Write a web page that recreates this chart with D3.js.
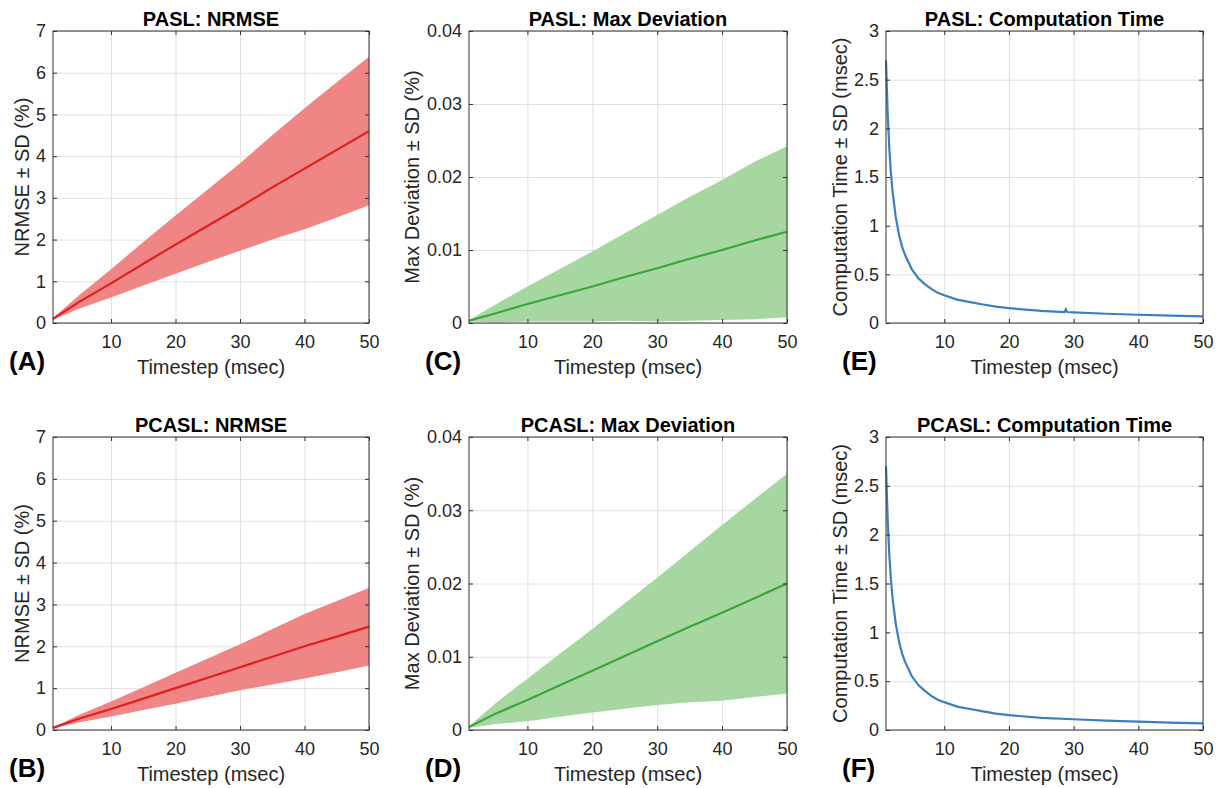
<!DOCTYPE html>
<html>
<head>
<meta charset="utf-8">
<script src="https://cdn.jsdelivr.net/npm/d3@7"></script>
<style>
  body { margin: 0; background: #fff; }
  svg { display: block; font-family: "Liberation Sans", Arial, sans-serif; }
  .tick text { fill: #262626; font-size: 18px; }
  .grid line { stroke: #e0e0e0; }
  .grid .domain { display: none; }
</style>
</head>
<body>
<div id="chart"></div>
<script>
// timesteps (msec) where values were read
var stepX = [1, 5, 10, 15, 20, 25, 30, 35, 40, 45, 50];

// PASL / PCASL NRMSE (%) mean and SD
var paslNrmse = [0.10, 0.50, 0.95, 1.42, 1.88, 2.33, 2.78, 3.25, 3.70, 4.15, 4.60];
var paslNrmseSd = [0.02, 0.16, 0.34, 0.52, 0.70, 0.87, 1.05, 1.25, 1.45, 1.62, 1.78];
var pcaslNrmse = [0.05, 0.27, 0.50, 0.75, 1.00, 1.25, 1.50, 1.75, 2.00, 2.23, 2.47];
var pcaslNrmseSd = [0.01, 0.09, 0.18, 0.27, 0.37, 0.46, 0.55, 0.66, 0.77, 0.85, 0.93];

// Max deviation (%) mean and SD
var paslMaxDev = [0.0003, 0.0013, 0.0026, 0.0038, 0.0050, 0.0063, 0.0075, 0.0088, 0.0100, 0.0113, 0.0125];
var paslMaxDevSd = [0.0001, 0.0012, 0.0024, 0.0036, 0.0048, 0.0060, 0.0073, 0.0085, 0.0096, 0.0108, 0.0117];
var pcaslMaxDev = [0.0004, 0.0022, 0.0041, 0.0061, 0.0081, 0.0101, 0.0121, 0.0141, 0.0160, 0.0180, 0.0200];
var pcaslMaxDevSd = [0.0001, 0.0014, 0.0029, 0.0043, 0.0057, 0.0072, 0.0087, 0.0103, 0.0120, 0.0135, 0.0150];

// computation time (msec)
var paslTimeX = [1, 1.25, 1.5, 1.75, 2, 2.5, 3, 3.5, 4, 5, 6, 7, 8, 9, 10, 12, 14, 16, 18, 20, 25, 28.6, 28.8, 29, 30, 35, 40, 45, 50];
var paslTime = [2.70, 2.17, 1.81, 1.55, 1.36, 1.09, 0.91, 0.78, 0.69, 0.55, 0.46, 0.40, 0.35, 0.31, 0.285, 0.24, 0.215, 0.19, 0.168, 0.152, 0.125, 0.112, 0.14, 0.113, 0.11, 0.095, 0.085, 0.076, 0.068];
var pcaslTimeX = [1, 1.25, 1.5, 1.75, 2, 2.5, 3, 3.5, 4, 5, 6, 7, 8, 9, 10, 12, 14, 16, 18, 20, 25, 30, 35, 40, 45, 50];
var pcaslTime = [2.70, 2.17, 1.81, 1.55, 1.36, 1.09, 0.91, 0.78, 0.69, 0.55, 0.46, 0.40, 0.35, 0.31, 0.285, 0.24, 0.215, 0.19, 0.168, 0.152, 0.125, 0.11, 0.095, 0.085, 0.076, 0.068];

// tick labels
var xTicks = [10, 20, 30, 40, 50];
var nrmseTicks = [0, 1, 2, 3, 4, 5, 6, 7];
var maxDevTicks = [0, 0.01, 0.02, 0.03, 0.04];
var timeTicks = [0, 0.5, 1, 1.5, 2, 2.5, 3];

var width = 1217, height = 788;
var svg = d3.select("#chart").append("svg").attr("width", width).attr("height", height);

var cols = [{left: 53, right: 369, ylab: 22}, {left: 469, right: 787, ylab: 412}, {left: 886, right: 1203, ylab: 840}];
var rows = [{top: 31, bottom: 323}, {top: 437, bottom: 730}];

var red = {fill: "#f08585", line: "#e01e1e"},
  green = {fill: "#a6d7a0", line: "#3aa63a"},
  blue = {fill: "none", line: "#3a7fc2"};

var panels = [
  {col: 0, row: 0, letter: "(A)", title: "PASL: NRMSE", ylabel: "NRMSE \u00b1 SD (%)", x: stepX, mean: paslNrmse, sd: paslNrmseSd, ticks: nrmseTicks, c: red},
  {col: 0, row: 1, letter: "(B)", title: "PCASL: NRMSE", ylabel: "NRMSE \u00b1 SD (%)", x: stepX, mean: pcaslNrmse, sd: pcaslNrmseSd, ticks: nrmseTicks, c: red},
  {col: 1, row: 0, letter: "(C)", title: "PASL: Max Deviation", ylabel: "Max Deviation \u00b1 SD (%)", x: stepX, mean: paslMaxDev, sd: paslMaxDevSd, ticks: maxDevTicks, c: green},
  {col: 1, row: 1, letter: "(D)", title: "PCASL: Max Deviation", ylabel: "Max Deviation \u00b1 SD (%)", x: stepX, mean: pcaslMaxDev, sd: pcaslMaxDevSd, ticks: maxDevTicks, c: green},
  {col: 2, row: 0, letter: "(E)", title: "PASL: Computation Time", ylabel: "Computation Time \u00b1 SD (msec)", x: paslTimeX, mean: paslTime, sd: null, ticks: timeTicks, c: blue},
  {col: 2, row: 1, letter: "(F)", title: "PCASL: Computation Time", ylabel: "Computation Time \u00b1 SD (msec)", x: pcaslTimeX, mean: pcaslTime, sd: null, ticks: timeTicks, c: blue}
];

panels.forEach(drawPanel);

function drawPanel(p) {
  var col = cols[p.col], row = rows[p.row];
  var w = col.right - col.left, h = row.bottom - row.top;
  var g = svg.append("g").attr("transform", "translate(" + col.left + "," + row.top + ")");

  var x = d3.scaleLinear().domain([1, 50]).range([0, w]);
  var y = d3.scaleLinear().domain([p.ticks[0], p.ticks[p.ticks.length - 1]]).range([h, 0]);

  // grid
  g.append("g").attr("class", "grid")
    .attr("transform", "translate(0," + h + ")")
    .call(d3.axisBottom(x).tickValues(xTicks).tickSize(-h).tickFormat(""));
  g.append("g").attr("class", "grid")
    .call(d3.axisLeft(y).tickValues(p.ticks).tickSize(-w).tickFormat(""));

  var data = p.x.map(function (d, i) {
    return {x: d, m: p.mean[i], s: p.sd ? p.sd[i] : 0};
  });

  if (p.sd) {
    var band = d3.area()
      .x(function (d) { return x(d.x); })
      .y0(function (d) { return y(d.m - d.s); })
      .y1(function (d) { return y(d.m + d.s); });
    g.append("path").datum(data)
      .attr("d", band)
      .attr("fill", p.c.fill);
  }

  var line = d3.line()
    .x(function (d) { return x(d.x); })
    .y(function (d) { return y(d.m); });
  g.append("path").datum(data)
    .attr("d", line)
    .attr("fill", "none")
    .attr("stroke", p.c.line)
    .attr("stroke-width", 2.2);

  // axes, ticks pointing inward on all four sides
  var fmt = function (d) { return String(d); };
  var xb = g.append("g").attr("transform", "translate(0," + h + ")")
    .call(d3.axisBottom(x).tickValues(xTicks).tickSize(-4).tickSizeOuter(0).tickPadding(12).tickFormat(fmt));
  var xt = g.append("g")
    .call(d3.axisTop(x).tickValues(xTicks).tickSize(-4).tickSizeOuter(0).tickFormat(""));
  var yl = g.append("g")
    .call(d3.axisLeft(y).tickValues(p.ticks).tickSize(-4).tickSizeOuter(0).tickPadding(7).tickFormat(fmt));
  var yr = g.append("g").attr("transform", "translate(" + w + ",0)")
    .call(d3.axisRight(y).tickValues(p.ticks).tickSize(-4).tickSizeOuter(0).tickFormat(""));
  [xb, xt, yl, yr].forEach(function (a) {
    a.select(".domain").remove();
    a.selectAll(".tick line").attr("stroke", "#333");
  });

  g.append("rect")
    .attr("width", w).attr("height", h)
    .attr("fill", "none")
    .attr("stroke", "#333")
    .attr("stroke-width", 1);

  g.append("text")
    .attr("x", w / 2).attr("y", -5)
    .attr("text-anchor", "middle")
    .style("font-size", "20px").style("font-weight", "bold")
    .attr("fill", "#000")
    .text(p.title);

  g.append("text")
    .attr("x", w / 2).attr("y", h + 51)
    .attr("text-anchor", "middle")
    .style("font-size", "20px")
    .attr("fill", "#262626")
    .text("Timestep (msec)");

  svg.append("text")
    .attr("transform", "translate(" + col.ylab + "," + (row.top + h / 2) + ") rotate(-90)")
    .attr("text-anchor", "middle")
    .attr("dy", "0.35em")
    .style("font-size", "20px")
    .attr("fill", "#262626")
    .text(p.ylabel);

  svg.append("text")
    .attr("x", col.left - 44).attr("y", row.bottom + 47)
    .style("font-size", "26px").style("font-weight", "bold")
    .attr("fill", "#000")
    .text(p.letter);
}
</script>
</body>
</html>
